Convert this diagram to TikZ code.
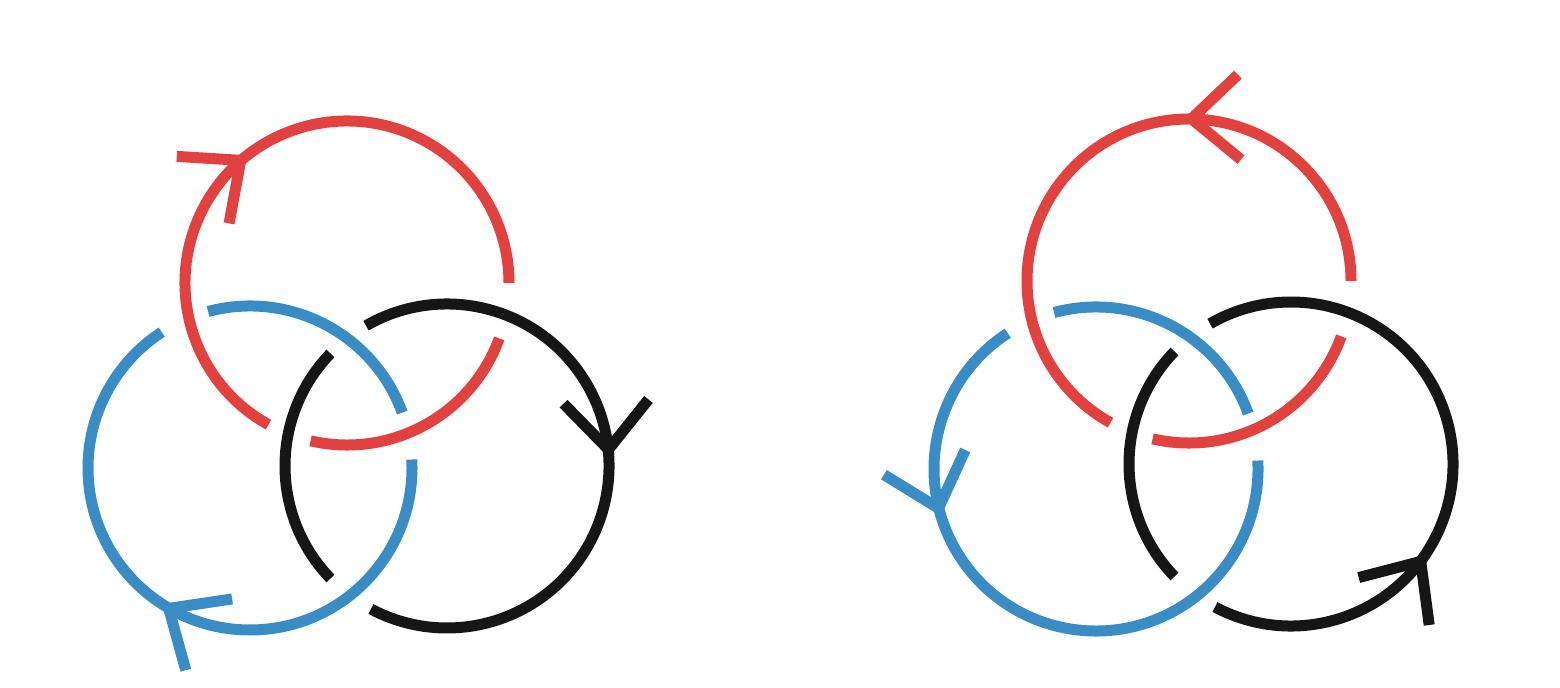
\documentclass[tikz,border=0pt]{standalone}
\usepackage{tikz}
\usetikzlibrary{arrows.meta,decorations.markings}
\definecolor{ringred}{HTML}{E1413F}
\definecolor{ringblue}{HTML}{3A8CC4}
\definecolor{ringblack}{HTML}{161616}

\begin{document}
\begin{tikzpicture}[
      ring/.style={line width=1.1mm, radius=1.62},
      redring/.style={ring, ringred},
      bluering/.style={ring, ringblue},
      blackring/.style={ring, ringblack},
      tipat/.style={postaction={decorate}, decoration={markings,
                    mark=at position #1 with {\arrow{Straight Barb[length=4.8mm, width=8.5mm]}}}}
    ]
      \useasboundingbox (0,0) rectangle (15.6,-6.88);

      % Centres of the rings
      \coordinate (redL) at (3.47,-2.83);
      \coordinate (blueL) at (2.50,-4.68);
      \coordinate (blackL) at (4.47,-4.66);
      \coordinate (redR) at (11.89,-2.81);
      \coordinate (blueR) at (10.96,-4.69);
      \coordinate (blackR) at (12.91,-4.64);

      % Left: every ring runs clockwise
      \draw[redring] (redL) ++(-103:1.62) arc[start angle=-103, end angle=-20];
      \draw[redring, tipat=0.469] (redL) ++(241:1.62) arc[start angle=241, end angle=0];

      \draw[bluering] (blueL) ++(20:1.62) arc[start angle=20, end angle=105];
      \draw[bluering, tipat=0.525] (blueL) ++(363:1.62) arc[start angle=363, end angle=123];

      \draw[blackring] (blackL) ++(136:1.62) arc[start angle=136, end angle=224];
      \draw[blackring, tipat=0.492] (blackL) ++(480:1.62) arc[start angle=480, end angle=242];

      % Right: every ring runs counterclockwise
      \draw[redring] (redR) ++(-103:1.62) arc[start angle=-103, end angle=-20];
      \draw[redring, tipat=0.382] (redR) ++(0:1.62) arc[start angle=0, end angle=241];

      \draw[bluering] (blueR) ++(20:1.62) arc[start angle=20, end angle=105];
      \draw[bluering, tipat=0.308] (blueR) ++(123:1.62) arc[start angle=123, end angle=363];

      \draw[blackring] (blackR) ++(136:1.62) arc[start angle=136, end angle=224];
      \draw[blackring, tipat=0.353] (blackR) ++(242:1.62) arc[start angle=242, end angle=480];
    \end{tikzpicture}
\end{document}
